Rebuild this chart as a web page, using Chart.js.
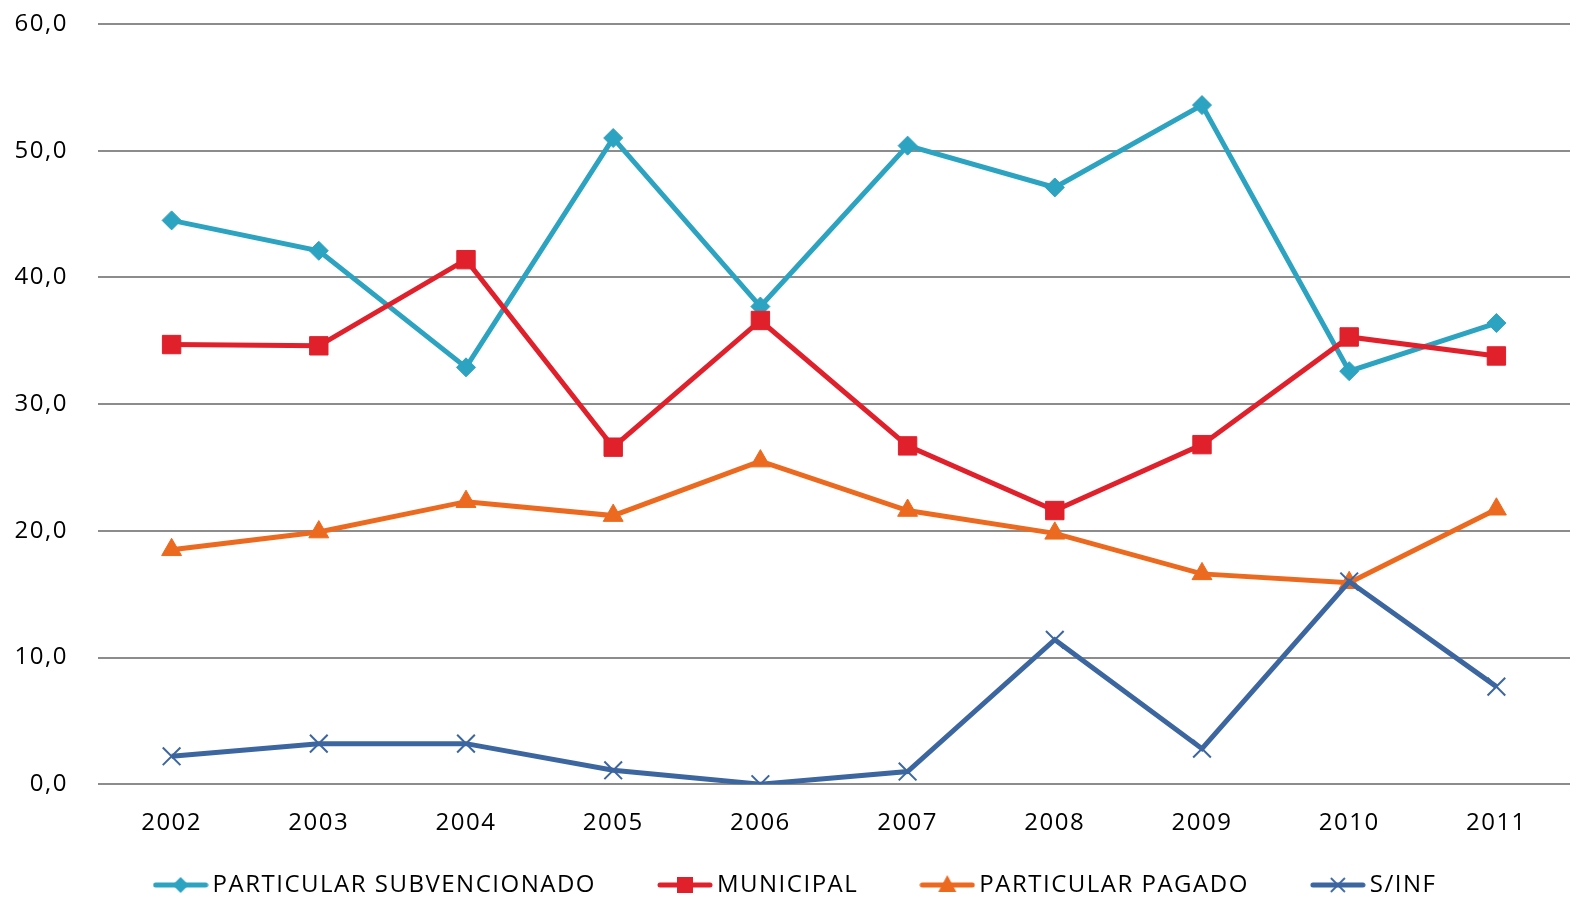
<!DOCTYPE html>
<html>
<head>
<meta charset="utf-8">
<script src="https://cdn.jsdelivr.net/npm/chart.js@4/dist/chart.umd.min.js"></script>
<style>
  html, body { margin: 0; padding: 0; background: #ffffff; }
  #wrap { width: 1594px; height: 913px; position: relative; }
</style>
</head>
<body>
<div id="wrap"><canvas id="c"></canvas></div>
<script>
const years = ['2002','2003','2004','2005','2006','2007','2008','2009','2010','2011'];
const particularSubvencionado = [44.5, 42.1, 32.9, 51.0, 37.7, 50.4, 47.1, 53.6, 32.6, 36.4];
const municipal = [34.7, 34.6, 41.4, 26.6, 36.6, 26.7, 21.6, 26.8, 35.3, 33.8];
const particularPagado = [18.5, 19.9, 22.3, 21.2, 25.5, 21.6, 19.8, 16.6, 15.9, 21.7];
const sinInf = [2.2, 3.2, 3.2, 1.1, 0.0, 1.0, 11.4, 2.8, 16.0, 7.7];
const seriesNames = ['PARTICULAR SUBVENCIONADO', 'MUNICIPAL', 'PARTICULAR PAGADO', 'S/INF'];
const yTicks = [0, 10, 20, 30, 40, 50, 60];

const COLORS = ['#2ca3c0', '#e0202b', '#ec6a1f', '#3c66a0'];
const FONT = "'Open Sans', 'Noto Sans', sans-serif";
const FS = 24;
const LETTER = '1.5px';
const LEG_PAD = 69;

function legendIcon(color, style) {
  const c = document.createElement('canvas');
  c.width = 56; c.height = 24;
  const g = c.getContext('2d');
  const cy = 12, cx = 28;
  g.strokeStyle = color; g.lineWidth = 5; g.lineCap = 'round';
  g.beginPath(); g.moveTo(3, cy); g.lineTo(53, cy); g.stroke();
  g.fillStyle = color;
  g.beginPath();
  if (style === 'rectRot') {
    g.moveTo(cx - 8, cy); g.lineTo(cx, cy - 8); g.lineTo(cx + 8, cy); g.lineTo(cx, cy + 8); g.closePath(); g.fill();
  } else if (style === 'rect') {
    g.rect(cx - 8, cy - 8, 16, 16); g.fill();
  } else if (style === 'triangle') {
    g.moveTo(cx, cy - 10); g.lineTo(cx + 9, cy + 7); g.lineTo(cx - 9, cy + 7); g.closePath(); g.fill();
  } else {
    g.lineWidth = 1.8; g.lineCap = 'butt';
    g.moveTo(cx - 7, cy - 7); g.lineTo(cx + 7, cy + 7);
    g.moveTo(cx + 7, cy - 7); g.lineTo(cx - 7, cy + 7); g.stroke();
  }
  return c;
}

const styles = ['rectRot', 'rect', 'triangle', 'crossRot'];
const radii = [9.5, 13, 11.5, 12.5];
const values = [particularSubvencionado, municipal, particularPagado, sinInf];
const icons = styles.map((s, i) => legendIcon(COLORS[i], s));

const datasets = values.map((v, i) => ({
  label: seriesNames[i],
  data: v,
  borderColor: COLORS[i],
  backgroundColor: COLORS[i],
  borderWidth: 5,
  pointStyle: styles[i],
  pointRadius: radii[i],
  pointHoverRadius: radii[i],
  pointBorderWidth: i === 3 ? 2 : 1,
  pointBackgroundColor: COLORS[i],
  pointBorderColor: COLORS[i],
  tension: 0,
  order: 4 - i
}));

// letter spacing on the chart canvas text, and legend placement
const layoutTweaks = {
  id: 'layoutTweaks',
  beforeUpdate(chart) {
    chart.ctx.letterSpacing = LETTER;
    const lg = chart.legend;
    if (lg && !lg._patched) {
      const f = lg.fit;
      lg.fit = function () { f.call(this); this.height = 50; };
      lg._patched = true;
    }
  },
  beforeLayout(chart) { chart.ctx.letterSpacing = LETTER; },
  afterLayout(chart) {
    const lg = chart.legend;
    const ih = lg.legendHitBoxes && lg.legendHitBoxes[0] ? lg.legendHitBoxes[0].height : FS;
    const top = 885 - LEG_PAD - ih / 2;
    lg.top = top;
    lg.bottom = chart.height;
    lg.height = lg.bottom - lg.top;
    lg.left = 27;
    lg.width = lg.right - lg.left;
  },
  beforeDraw(chart) { chart.ctx.letterSpacing = LETTER; }
};

new Chart(document.getElementById('c'), {
  type: 'line',
  data: { labels: years, datasets },
  plugins: [layoutTweaks],
  options: {
    responsive: true,
    maintainAspectRatio: false,
    animation: false,
    layout: { autoPadding: false, padding: { left: 0, right: 24, top: 0, bottom: 0 } },
    plugins: {
      tooltip: { enabled: false },
      legend: {
        position: 'bottom',
        labels: {
          usePointStyle: true,
          pointStyleWidth: 40,
          padding: LEG_PAD,
          color: '#000',
          font: { family: FONT, size: FS },
          sort: (a, b) => a.datasetIndex - b.datasetIndex,
          generateLabels: (chart) => {
            const items = Chart.defaults.plugins.legend.labels.generateLabels(chart);
            items.forEach(it => { it.pointStyle = icons[it.datasetIndex]; it.lineWidth = 0; });
            return items;
          }
        }
      }
    },
    scales: {
      x: {
        offset: true,
        grid: { display: false, drawTicks: false },
        border: { display: false },
        ticks: { color: '#000', font: { family: FONT, size: FS }, padding: 25 },
        afterFit: (s) => { s.paddingLeft = 0; s.paddingRight = 0; }
      },
      y: {
        min: 0, max: 60,
        afterFit: (s) => { s.width = 98; s.paddingTop = 24; s.paddingBottom = 0; },
        afterBuildTicks: (s) => { s.ticks = yTicks.map(v => ({ value: v })); },
        grid: { color: '#8c8c8c', lineWidth: 2, drawTicks: false },
        border: { display: false },
        ticks: {
          color: '#000', font: { family: FONT, size: FS }, padding: 30,
          callback: (v) => v.toFixed(1).replace('.', ',')
        }
      }
    }
  }
});
</script>
</body>
</html>
